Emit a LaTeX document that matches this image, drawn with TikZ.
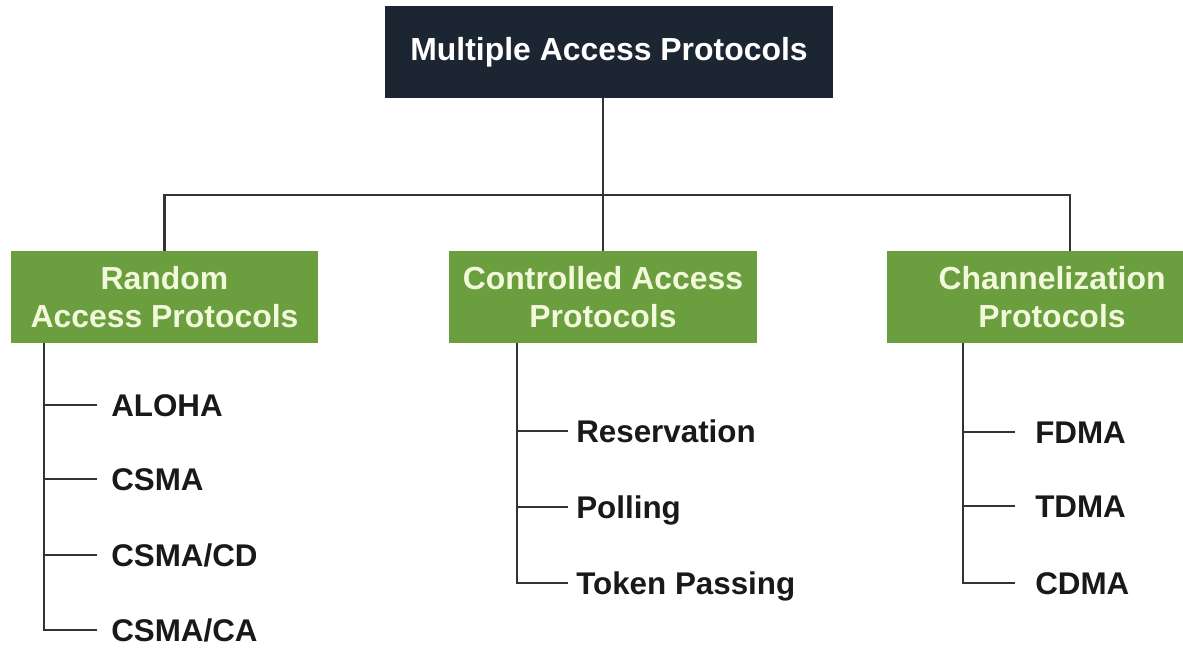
\documentclass[tikz,border=0pt]{standalone}
\usepackage{fontspec}
\setmainfont{Liberation Sans}
\definecolor{navy}{HTML}{1C2532}
\definecolor{leaf}{HTML}{6A9E3F}
\definecolor{pale}{HTML}{F2F8DA}
\definecolor{wire}{HTML}{333333}
\begin{document}
\begin{tikzpicture}[x=0.025cm, y=-0.025cm,
  topbox/.style={fill=navy, text=white, minimum width=11.2cm, minimum height=2.3cm, font=\fontsize{22.7}{27}\selectfont\bfseries},
  groupbox/.style={fill=leaf, text=pale, minimum width=7.675cm, minimum height=2.3cm, align=center, font=\fontsize{22.7}{27.6}\selectfont\bfseries},
  item/.style={anchor=west, inner sep=0pt, text=black!90, text height=15.9pt, text depth=0pt, font=\fontsize{22.3}{26}\selectfont\bfseries},
  wire/.style={draw=wire, line width=2pt}]
\useasboundingbox (0,0) rectangle (1183,648);
\clip (0,0) rectangle (1183,648);

\node [topbox] (map) at (609,52) {Multiple Access Protocols};
\node [groupbox] (rap) at (164.5,297) {Random\\Access Protocols};
\node [groupbox] (cap) at (603,297) {Controlled Access\\Protocols};
\node [groupbox, minimum width=8.25cm] (chp) at (1052,297) {Channelization\\Protocols};

\coordinate (junc) at (603,195);
\coordinate (rdrop) at (1070,251);
\draw [wire] (junc) -- (junc |- map.south);
\draw [wire] (rap.north) |- (junc) -| (rdrop);
\draw [wire] (junc) -- (cap.north);

% random access
\coordinate (rspine) at (44,343);
\node [item] (aloha) at (111,405) {ALOHA};
\node [item] (csma) at (111,479) {CSMA};
\node [item] (csmacd) at (111,555) {CSMA/CD};
\node [item] (csmaca) at (111,630) {CSMA/CA};
\draw [wire] (rspine) |- ([xshift=-0.35cm]aloha.west);
\draw [wire] (rspine) |- ([xshift=-0.35cm]csma.west);
\draw [wire] (rspine) |- ([xshift=-0.35cm]csmacd.west);
\draw [wire] (rspine) |- ([xshift=-0.35cm]csmaca.west);

% controlled access
\coordinate (cspine) at (517,343);
\node [item] (resv) at (576,431) {Reservation};
\node [item] (poll) at (576,507) {Polling};
\node [item] (token) at (576,583) {Token Passing};
\draw [wire] (cspine) |- ([xshift=-0.2cm]resv.west);
\draw [wire] (cspine) |- ([xshift=-0.2cm]poll.west);
\draw [wire] (cspine) |- ([xshift=-0.2cm]token.west);

% channelization
\coordinate (hspine) at (963,343);
\node [item] (fdma) at (1035,432) {FDMA};
\node [item] (tdma) at (1035,506) {TDMA};
\node [item] (cdma) at (1035,583) {CDMA};
\draw [wire] (hspine) |- ([xshift=-0.5cm]fdma.west);
\draw [wire] (hspine) |- ([xshift=-0.5cm]tdma.west);
\draw [wire] (hspine) |- ([xshift=-0.5cm]cdma.west);

\end{tikzpicture}
\end{document}
